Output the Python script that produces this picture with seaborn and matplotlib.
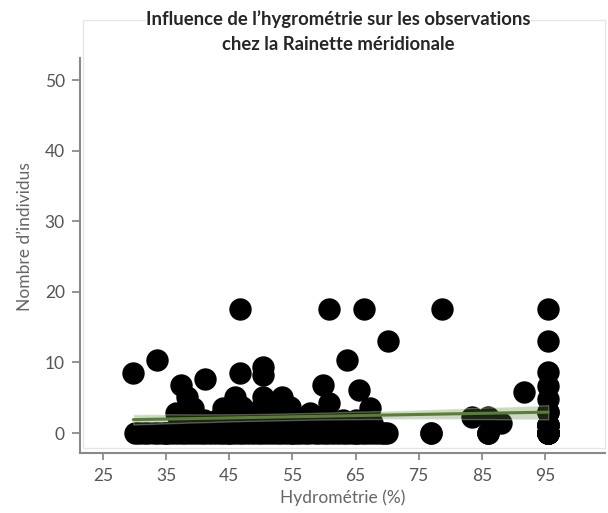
import pandas as pd
import seaborn as sns
import matplotlib.pyplot as plt
from matplotlib.patches import Rectangle

# data (many points overlap in the zero row / 95 % column)
hygrometrie = [
    # zero row
    30, 31.5, 33, 34.5, 36, 37.5, 39, 40.5, 42, 43.5, 45, 46.5, 48, 49.5,
    51, 52.5, 54, 55.5, 57, 58.5, 60, 61.5, 63, 64.5, 66, 67.5, 69, 70,
    77, 86, 95.5,
    # zero row, hidden duplicates
    30.7, 32.2, 33.7, 35.2, 36.7, 38.2, 39.7, 41.2, 42.7, 44.2, 45.7, 47.2,
    48.7, 50.2, 51.7, 53.2, 54.7, 56.2, 57.7, 59.2, 60.7, 62.2, 63.7, 65.2,
    66.7, 68.2, 69.5, 35, 45, 55, 65,
    95.5, 95.5, 95.5, 95.5, 95.5, 95.5, 95.5, 95.5, 95.5, 95.5, 86, 86, 77,
    # low band (1-2)
    37, 39, 41, 43, 45, 47, 49, 51, 53, 55, 57, 59, 61, 63, 65, 67.6, 88, 95.5,
    95.5, 95.5, 95.5,
    # 2-4
    36.5, 39.3, 44, 47, 50, 52, 54.6, 57.8, 60.8, 67.3, 83.5, 86, 95.5, 95.5,
    # ~5
    38.3, 45.9, 50.4, 53.4, 95.5,
    # 6-8
    37.4, 59.9, 65.6, 91.7, 95.5, 41.2,
    # 8-10
    29.8, 46.7, 95.5, 50.4, 50.4, 33.6, 63.7,
    # 13
    70.2, 95.5,
    # 17-18
    46.7, 60.8, 66.4, 78.7, 95.5,
]
individus = [
    0, 0, 0, 0, 0, 0, 0, 0, 0, 0, 0, 0, 0, 0,
    0, 0, 0, 0, 0, 0, 0, 0, 0, 0, 0, 0, 0, 0,
    0, 0, 0,
    0, 0, 0, 0, 0, 0, 0, 0, 0, 0, 0, 0,
    0, 0, 0, 0, 0, 0, 0, 0, 0, 0, 0, 0,
    0, 0, 0, 0, 0, 0, 0,
    0, 0, 0, 0, 0, 0, 0, 0, 0, 0, 0, 0, 0,
    1.8, 1.8, 1.8, 1.8, 1.8, 1.8, 1.8, 1.8, 1.8, 1.8, 1.8, 1.8, 1.8, 1.8, 1.8, 1.4, 1.4, 1.2,
    1.2, 1.2, 1.2,
    2.8, 3.5, 3.5, 3.7, 3.5, 4.0, 3.7, 2.8, 4.2, 3.5, 2.3, 2.3, 3.0, 3.0,
    5.1, 5.1, 5.1, 5.1, 4.8,
    6.8, 6.8, 6.1, 5.8, 6.7, 7.6,
    8.5, 8.5, 8.7, 9.3, 8.2, 10.3, 10.3,
    13, 13,
    17.5, 17.5, 17.5, 17.5, 17.5,
]

x_ticks = [25, 35, 45, 55, 65, 75, 85, 95]
y_ticks = [0, 10, 20, 30, 40, 50]

df = pd.DataFrame({'Hydrométrie (%)': hygrometrie, "Nombre d’individus": individus})

sns.set_style('white')
plt.rcParams['font.family'] = ['Lato', 'DejaVu Sans']

fig = plt.figure(figsize=(6.08, 5.13), dpi=100)
ax = fig.add_axes([80 / 608, 1 - 453 / 513, 525 / 608, 433 / 513])

sns.regplot(
    data=df, x='Hydrométrie (%)', y="Nombre d’individus", ax=ax,
    color='#5b7d3a', ci=80,
    scatter_kws={'s': 260, 'color': 'black', 'alpha': 1, 'linewidths': 0},
    line_kws={'linewidth': 2.2, 'color': '#5b7d3a'},
)
# make the confidence band a bit greener
ax.collections[-1].set_alpha(0.3)

ax.set_xlim(21.36, 104.5)
ax.set_ylim(-2.83, 58.5)
ax.set_xticks(x_ticks)
ax.set_yticks(y_ticks)

# light panel frame, dark axis lines
ax.add_patch(Rectangle((21.84, -2.12), 104.5 - 21.84, 58.5 + 2.12, fill=False,
                       edgecolor='#e6e6e6', linewidth=1, clip_on=False, zorder=0))
for side in ['top', 'right']:
    ax.spines[side].set_visible(False)
for side in ['left', 'bottom']:
    ax.spines[side].set_color('#8a8a8a')
    ax.spines[side].set_linewidth(1.5)
ax.spines['left'].set_bounds(-2.83, 53.1)

ax.tick_params(axis='both', colors='#8a8a8a', labelcolor='#555555', labelsize=12.5,
               width=1.3, direction='out', bottom=True, left=True)
ax.tick_params(axis='y', length=6, pad=5)
ax.tick_params(axis='x', length=5, pad=6)

ax.set_xlabel('Hydrométrie (%)', fontsize=12.5, color='#666666', labelpad=4)
ax.set_ylabel("Nombre d’individus", fontsize=12.5, color='#666666', labelpad=8)

fig.text(338 / 608, 1 - 10 / 513,
         "Influence de l’hygrométrie sur les observations\nchez la Rainette méridionale",
         ha='center', va='top', fontsize=13.3, fontweight='bold', linespacing=1.6,
         bbox=dict(facecolor='white', edgecolor='none', pad=0))

fig.savefig('out.png', dpi=100)
